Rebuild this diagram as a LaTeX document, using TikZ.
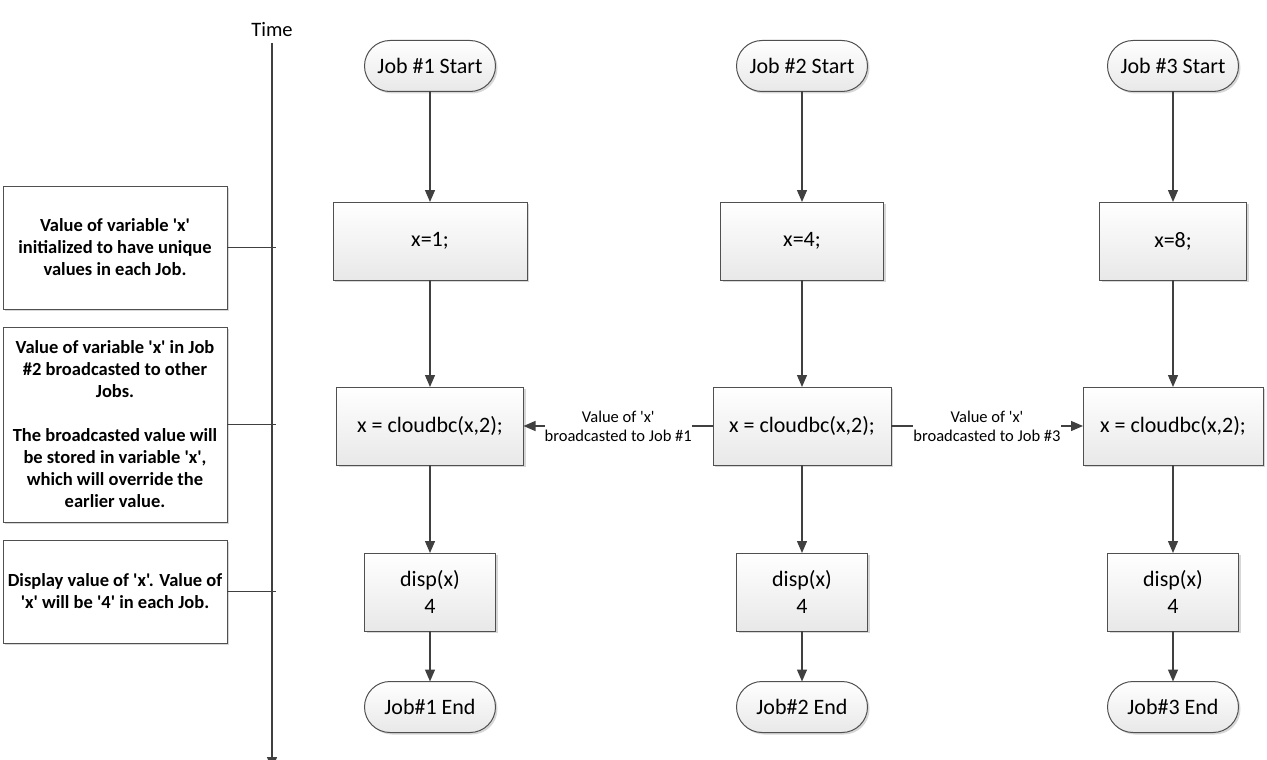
\documentclass[tikz,border=0pt]{standalone}
\usepackage{fontspec}
\setmainfont{Carlito}[Ligatures=TeXOff]
\usetikzlibrary{arrows.meta,shadows}
\definecolor{edge}{HTML}{404040}
\definecolor{boxline}{HTML}{505050}
\begin{document}
\begin{tikzpicture}[x=1pt,y=-1pt,
  every node/.style={inner sep=0pt, outer sep=0pt},
  softshadow/.style={drop shadow={shadow xshift=2pt,shadow yshift=-2pt,fill=black!35,opacity=0.45}},
  flowbox/.style={draw=boxline, line width=1pt, top color=white, bottom color=black!9, softshadow, font=\fontsize{22}{26.5}\selectfont, align=center, minimum height=78pt},
  term/.style={flowbox, rounded corners=25.5pt, minimum width=131pt, minimum height=51pt},
  note/.style={draw=boxline, line width=1pt, fill=white, softshadow, minimum width=224pt, align=center, font=\bfseries\fontsize{18.5}{22}\selectfont},
  conn/.style={draw=edge, line width=1.3pt, -{Triangle[length=12pt,width=10pt]}},
  plainline/.style={draw=edge, line width=1.3pt},
  bclabel/.style={fill=white, align=center, font=\fontsize{16.5}{19}\selectfont}
]
\useasboundingbox (0,0) rectangle (1267,760);

% time axis
\node (time) at (272,30) {\fontsize{20.5}{24}\selectfont Time};
\coordinate (tstart) at (272,43);
\coordinate (tend) at (272,769);
\coordinate (tick) at (276,0);
\draw[conn] (tstart) -- (tend);

% notes
\node[note, minimum height=123pt] (n1) at (115,247.5) {Value of variable 'x'\\initialized to have unique\\values in each Job.};
\node[note, minimum height=195pt] (n2) at (115,424.5) {Value of variable 'x' in Job\\\#2 broadcasted to other\\Jobs.\\[22pt]The broadcasted value will\\be stored in variable 'x',\\which will override the\\earlier value.};
\node[note, minimum height=103pt] (n3) at (115,591.5) {Display value of 'x'. Value of\\'x' will be '4' in each Job.};
\draw[plainline] (n1.east) -- (n1.east -| tick);
\draw[plainline] (n2.east) -- (n2.east -| tick);
\draw[plainline] (n3.east) -- (n3.east -| tick);

% column 1
\node[term] (s1) at (430,66) {Job \#1 Start};
\node[flowbox, minimum width=194pt] (a1) at (430,241) {x=1;};
\node[flowbox, minimum width=187pt] (c1) at (430,426) {x = cloudbc(x,2);};
\node[flowbox, minimum width=131pt] (d1) at (430,592) {disp(x)\\4};
\node[term] (e1) at (430,707) {Job\#1 End};

% column 2
\node[term] (s2) at (802,66) {Job \#2 Start};
\node[flowbox, minimum width=163pt] (a2) at (802,241) {x=4;};
\node[flowbox, minimum width=178pt] (c2) at (802,426) {x = cloudbc(x,2);};
\node[flowbox, minimum width=131pt] (d2) at (802,592) {disp(x)\\4};
\node[term] (e2) at (802,707) {Job\#2 End};

% column 3
\node[term] (s3) at (1173,66) {Job \#3 Start};
\node[flowbox, minimum width=147pt] (a3) at (1173,241) {x=8;};
\node[flowbox, minimum width=180pt] (c3) at (1173,426) {x = cloudbc(x,2);};
\node[flowbox, minimum width=131pt] (d3) at (1173,592) {disp(x)\\4};
\node[term] (e3) at (1173,707) {Job\#3 End};

% vertical flow
\foreach \c in {1,2,3}{
  \draw[conn] (s\c.south) -- (a\c.north);
  \draw[conn] (a\c.south) -- (c\c.north);
  \draw[conn] (c\c.south) -- (d\c.north);
  \draw[conn] (d\c.south) -- (e\c.north);
}

% broadcasts
\draw[conn] (c2.west) -- node[bclabel] {Value of 'x'\\broadcasted to Job \#1} (c1.east);
\draw[conn] (c2.east) -- node[bclabel] {Value of 'x'\\broadcasted to Job \#3} (c3.west);
\end{tikzpicture}
\end{document}
